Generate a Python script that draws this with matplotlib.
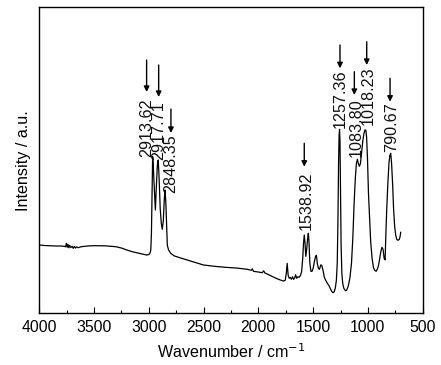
import matplotlib
matplotlib.use("Agg")
import matplotlib.pyplot as plt
from matplotlib.ticker import MultipleLocator

# FTIR spectrum (wavenumber in cm-1, intensity in a.u.)
wavenumber = [
    4000, 3950, 3900, 3850, 3800, 3770, 3760, 3752, 3745, 3738, 3730, 3722,
    3712, 3700, 3690, 3680, 3670, 3660, 3645, 3620, 3600, 3550, 3500, 3450,
    3400, 3350, 3300, 3250, 3200, 3150, 3100, 3050, 3020, 3000, 2990, 2982,
    2976, 2970, 2965, 2958, 2950, 2940, 2932, 2922, 2914, 2906, 2896, 2886,
    2877, 2868, 2858, 2852, 2845, 2838, 2831, 2820, 2800, 2770, 2700, 2600,
    2500, 2400, 2300, 2200, 2100, 2065, 2055, 2045, 2000, 1965, 1952, 1940,
    1900, 1850, 1800, 1770, 1755, 1745, 1737, 1728, 1718, 1708, 1698, 1688,
    1678, 1668, 1660, 1650, 1640, 1628, 1615, 1605, 1595, 1588, 1581, 1574,
    1567, 1558, 1550, 1544, 1538, 1530, 1520, 1510, 1500, 1488, 1478, 1470,
    1462, 1452, 1442, 1430, 1420, 1410, 1398, 1385, 1370, 1355, 1340, 1328,
    1318, 1308, 1298, 1288, 1280, 1274, 1268, 1263, 1259, 1255, 1250, 1245,
    1238, 1230, 1220, 1205, 1195, 1180, 1165, 1150, 1138, 1126, 1115, 1105,
    1096, 1088, 1078, 1068, 1058, 1046, 1036, 1026, 1019, 1012, 1004, 995,
    985, 975, 962, 950, 938, 925, 915, 905, 895, 882, 872, 862, 852, 843,
    836, 828, 818, 808, 800, 792, 784, 774, 766, 756, 746, 737, 726, 713,
    706, 701,
]
intensity = [
    68.3, 67.8, 67.5, 67.3, 67.3, 67.0, 66.5, 70.0, 66.0, 69.0, 65.5, 68.0,
    65.8, 67.0, 65.0, 66.8, 65.2, 66.5, 65.6, 66.5, 66.8, 67.4, 67.6, 67.6,
    67.5, 67.0, 66.6, 65.3, 63.3, 61.6, 60.3, 59.0, 58.3, 58.8, 60.0, 63.0,
    80.0, 120.0, 156.6, 145.0, 125.0, 103.3, 125.0, 148.0, 153.3, 135.0, 105.0, 90.0,
    84.0, 92.0, 115.0, 123.3, 112.0, 90.0, 68.0, 63.5, 60.0, 57.5, 55.0, 51.6,
    48.3, 47.0, 46.0, 45.3, 44.0, 43.0, 44.5, 42.0, 41.3, 40.6, 42.5, 40.3,
    38.3, 35.6, 33.3, 32.3, 33.0, 40.0, 50.0, 38.0, 35.0, 36.0, 34.0, 36.5,
    34.0, 35.5, 38.5, 35.0, 36.6, 36.0, 38.0, 42.0, 55.0, 70.0, 78.3, 70.0,
    57.0, 65.0, 75.0, 80.0, 72.0, 50.0, 42.0, 42.0, 45.0, 52.0, 57.0, 58.0,
    50.0, 45.0, 44.0, 48.5, 47.5, 43.0, 36.0, 33.0, 30.0, 27.5, 24.0, 21.6,
    20.6, 21.5, 25.0, 33.0, 50.0, 90.0, 150.0, 178.0, 184.0, 172.0, 120.0, 70.0,
    40.0, 30.0, 25.0, 22.6, 23.0, 27.0, 35.0, 50.0, 75.0, 110.0, 135.0, 150.0,
    154.0, 150.0, 147.0, 150.0, 160.0, 173.0, 180.0, 183.5, 183.0, 176.0, 155.0, 120.0,
    95.0, 72.0, 55.0, 46.0, 43.0, 42.0, 44.0, 47.0, 53.0, 62.0, 66.0, 64.0, 55.0, 53.5,
    80.0, 105.0, 130.0, 150.0, 158.0, 160.0, 150.0, 128.0, 105.0, 87.0, 78.0, 74.0, 73.0, 74.0,
    77.0, 81.0,
]

# peak labels: text, text position (wavenumber, bottom of text)
peak_labels = ["2913.62", "2917.71", "2848.35", "1538.92",
               "1257.36", "1083.80", "1018.23", "790.67"]
label_x = [3020, 2910, 2798, 1565, 1250, 1105, 995, 785]
label_y = [156.6, 153.3, 120.3, 83.3, 185.3, 156.3, 188.3, 161.3]

# arrows: x, tail y, head y
arrow_x = [3020, 2910, 2798, 1581, 1255, 1124, 1011, 798]
arrow_top = [253.3, 248.3, 204.3, 170.0, 268.3, 241.6, 271.6, 235.0]
arrow_tip = [221.3, 216.3, 180.3, 146.6, 245.0, 218.3, 248.3, 211.6]

plt.rcParams["font.family"] = ["Liberation Sans", "DejaVu Sans"]

fig = plt.figure(figsize=(4.41, 3.65), dpi=100)
ax = fig.add_axes([0.089, 0.1416, 0.8695, 0.8384])

ax.plot(wavenumber, intensity, color="black", lw=0.9)

for txt, x, y in zip(peak_labels, label_x, label_y):
    ax.text(x, y, txt, rotation=90, ha="center", va="bottom",
            fontsize=11.6, color="#111111")

for x, y0, y1 in zip(arrow_x, arrow_top, arrow_tip):
    ax.annotate("", xy=(x, y1), xytext=(x, y0),
                arrowprops=dict(arrowstyle="-|>", color="black", lw=1.0,
                                mutation_scale=8, shrinkA=0, shrinkB=0))

ax.set_xlim(4000, 500)
ax.set_ylim(0, 306)
ax.xaxis.set_major_locator(MultipleLocator(500))
ax.xaxis.set_minor_locator(MultipleLocator(250))
ax.tick_params(axis="x", which="major", direction="in", length=4, width=0.8,
               labelsize=11.3, pad=5)
ax.tick_params(axis="x", which="minor", direction="in", length=2.5, width=0.8)
ax.set_yticks([])
for s in ax.spines.values():
    s.set_linewidth(1.0)

ax.set_xlabel("Wavenumber / cm$^{-1}$", fontsize=11.6, labelpad=5)
ax.set_ylabel("Intensity / a.u.", fontsize=11.6, labelpad=6)

fig.savefig("out.png", dpi=100)
